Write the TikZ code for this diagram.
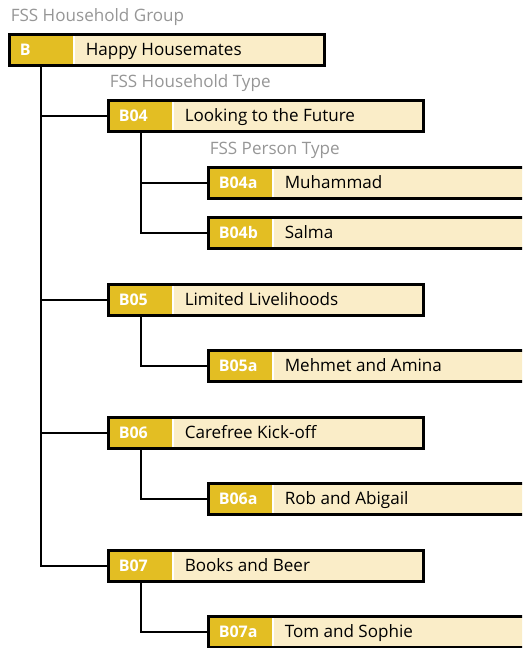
\documentclass[tikz,border=0pt]{standalone}
\usepackage{fontspec}
\setmainfont{Open Sans}
\definecolor{gold}{RGB}{227,190,35}
\definecolor{cream}{RGB}{250,237,200}
\definecolor{catgray}{RGB}{150,150,150}
\tikzset{
  fssbox/.style={draw=black, line width=2.2pt, fill=cream, minimum height=23.25pt,
    minimum width=#1, inner sep=0pt, outer sep=0pt, anchor=north west,
    path picture={
      \fill[gold] (path picture bounding box.north west) rectangle ([xshift=47.6pt]path picture bounding box.south west);
      \fill[white] ([xshift=47.6pt]path picture bounding box.north west) rectangle ([xshift=48.8pt]path picture bounding box.south west);
    }},
  fssbox/.default=236.25pt,
  codetxt/.style={anchor=base west, text=white, font=\fontsize{12pt}{14pt}\selectfont\bfseries, inner sep=0pt},
  labtxt/.style={anchor=base west, text=black, font=\fontsize{12.8pt}{15pt}\selectfont, inner sep=0pt},
  cattxt/.style={anchor=base west, text=catgray, font=\fontsize{12.8pt}{15pt}\selectfont, inner sep=0pt},
  conn/.style={draw=black, line width=2.1pt},
}
\newcommand\fssitem[5]{% name, x, y, code, label
  \node[fssbox=#5] (#1) at (#2) {};
  \node[codetxt] (#1c) at ([xshift=7.5pt,yshift=-4.3pt]#1.west) {#3};
  \node[labtxt] (#1l) at ([xshift=57pt,yshift=-4.3pt]#1.west) {#4};
}
\begin{document}
\begin{tikzpicture}[x=0.75pt,y=-0.75pt]
\useasboundingbox (0,0) rectangle (522,648);
\clip (0,0) rectangle (522,648);
% boxes
\fssitem{B}{9.5,34.5}{B}{Happy Housemates}{236.25pt}
\fssitem{B04}{108.5,100.5}{B04}{Looking to the Future}{236.25pt}
\fssitem{B04a}{208.5,167.5}{B04a}{Muhammad}{300pt}
\fssitem{B04b}{208.5,217.5}{B04b}{Salma}{300pt}
\fssitem{B05}{108.5,284.5}{B05}{Limited Livelihoods}{236.25pt}
\fssitem{B05a}{208.5,350.5}{B05a}{Mehmet and Amina}{300pt}
\fssitem{B06}{108.5,417.5}{B06}{Carefree Kick-off}{236.25pt}
\fssitem{B06a}{208.5,483.5}{B06a}{Rob and Abigail}{300pt}
\fssitem{B07}{108.5,550.5}{B07}{Books and Beer}{236.25pt}
\fssitem{B07a}{208.5,616.5}{B07a}{Tom and Sophie}{300pt}
% category labels
\node[cattxt] (catG) at ([xshift=0.75pt,yshift=9.4pt]B.north west) {FSS Household Group};
\node[cattxt] (catT) at ([xshift=0.75pt,yshift=9.4pt]B04.north west) {FSS Household Type};
\node[cattxt] (catP) at ([xshift=0.75pt,yshift=9.4pt]B04a.north west) {FSS Person Type};
% connectors
\draw[conn] ([xshift=23.6pt]B.south west) |- (B04.west);
\draw[conn] ([xshift=23.6pt]B.south west) |- (B05.west);
\draw[conn] ([xshift=23.6pt]B.south west) |- (B06.west);
\draw[conn] ([xshift=23.6pt]B.south west) |- (B07.west);
\draw[conn] ([xshift=24.4pt]B04.south west) |- (B04a.west);
\draw[conn] ([xshift=24.4pt]B04.south west) |- (B04b.west);
\draw[conn] ([xshift=24.4pt]B05.south west) |- (B05a.west);
\draw[conn] ([xshift=24.4pt]B06.south west) |- (B06a.west);
\draw[conn] ([xshift=24.4pt]B07.south west) |- (B07a.west);
\end{tikzpicture}
\end{document}
